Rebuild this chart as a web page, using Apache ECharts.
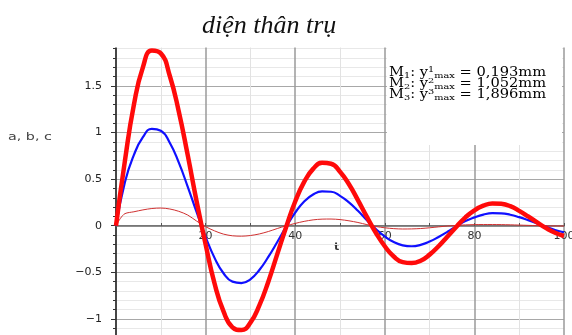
<!DOCTYPE html>
<html>
<head>
<meta charset="utf-8">
<script src="https://cdn.jsdelivr.net/npm/echarts@6/dist/echarts.min.js"></script>
<style>
  html, body { margin: 0; padding: 0; background: #fff; }
  #chart { width: 572px; height: 335px; }
</style>
</head>
<body>
<div id="chart"></div>
<script>
// t (time) and the three response curves
var tSteps = [0, 2, 4, 6, 8, 10, 12, 14, 16, 18, 20, 22, 24, 26, 28, 30, 32, 34, 36, 38, 40,
  42, 44, 46, 48, 50, 52, 54, 56, 58, 60, 62, 64, 66, 68, 70, 72, 74, 76, 78, 80,
  82, 84, 86, 88, 90, 92, 94, 96, 98, 100];

// M3, thick red
var m3 = [0, 0.70, 1.30, 1.70, 1.88, 1.85, 1.61, 1.23, 0.76, 0.26, -0.20, -0.62, -0.92, -1.09, -1.12,
  -1.04, -0.855, -0.60, -0.305, -0.01, 0.26, 0.47, 0.61, 0.675, 0.665, 0.58, 0.445, 0.275, 0.095,
  -0.075, -0.22, -0.33, -0.39, -0.40, -0.375, -0.31, -0.22, -0.115, -0.01, 0.09, 0.165, 0.215,
  0.24, 0.235, 0.21, 0.16, 0.10, 0.035, -0.025, -0.075, -0.11];

// M2, blue
var m2 = [0, 0.47, 0.76, 0.95, 1.04, 1.02, 0.89, 0.68, 0.42, 0.145, -0.12, -0.345, -0.51, -0.60, -0.615,
  -0.575, -0.475, -0.335, -0.175, -0.01, 0.14, 0.26, 0.335, 0.368, 0.365, 0.32, 0.25, 0.16, 0.06,
  -0.035, -0.115, -0.175, -0.21, -0.22, -0.205, -0.17, -0.12, -0.065, -0.005, 0.05, 0.09, 0.12,
  0.135, 0.133, 0.118, 0.092, 0.06, 0.025, -0.012, -0.045, -0.07];

// M1, thin red (own t list, it jumps up fast at the start)
var tM1 = [0, 1, 2, 4, 6, 8, 10, 12, 14, 16, 18, 20, 22, 24, 26, 28, 30, 32, 34, 36, 38, 40,
  42, 44, 46, 48, 50, 52, 54, 56, 58, 60, 62, 64, 66, 68, 70, 72, 74, 76, 78, 80,
  82, 84, 86, 88, 90, 92, 94, 96, 98, 100];
var m1 = [0, 0.08, 0.13, 0.15, 0.17, 0.185, 0.19, 0.18, 0.155, 0.115, 0.05, -0.01, -0.055, -0.09,
  -0.108, -0.112, -0.105, -0.088, -0.062, -0.03, 0.0, 0.025, 0.047, 0.063, 0.071, 0.072, 0.066,
  0.053, 0.035, 0.012, -0.008, -0.022, -0.031, -0.035, -0.034, -0.03, -0.022, -0.012, -0.003,
  0.004, 0.009, 0.012, 0.013, 0.013, 0.012, 0.01, 0.007, 0.004, 0.001, -0.001, -0.002, -0.003];

var legendLines = [
  ['1', '1', '0,193mm'],
  ['2', '2', '1,052mm'],
  ['3', '3', '1,896mm']
];

function pairs(xs, ys) {
  var out = [];
  for (var i = 0; i < xs.length; i++) out.push([xs[i], ys[i]]);
  return out;
}

var myChart = echarts.init(document.getElementById('chart'));

var graphics = [
  // hide the part of the axis above 1.9 (axis runs to 2 so ticks stay on 0.5 steps)
  {
    type: 'rect',
    shape: { x: 60, y: 0, width: 512, height: 47.5 },
    style: { fill: '#fff' },
    z: 20
  },
  {
    type: 'text',
    x: 202,
    y: 13,
    z: 30,
    style: {
      text: 'di\u1EC7n th\u00E2n tr\u1EE5',
      font: 'italic 26px "Liberation Serif"',
      fill: '#111'
    }
  },
  {
    type: 'text',
    x: 8,
    y: 132,
    scaleX: 1.3,
    style: { text: 'a, b, c', font: '11px "DejaVu Sans"', fill: '#444' }
  },
  {
    type: 'text',
    x: 334,
    y: 242,
    style: { text: 't', font: 'bold 11px "DejaVu Sans"', fill: '#333' }
  },
  {
    type: 'rect',
    shape: { x: 387, y: 47, width: 175, height: 98 },
    style: { fill: '#fff' },
    z: 10
  }
];

for (var i = 0; i < legendLines.length; i++) {
  graphics.push({
    type: 'text',
    x: 389,
    y: 66 + i * 11,
    scaleX: 1.22,
    z: 30,
    style: {
      text: '{b|M}{s|' + legendLines[i][0] + '}{b|: y}{p|' + legendLines[i][1] + '}{s|max}{b| = ' + legendLines[i][2] + '}',
      rich: {
        b: { fontFamily: 'DejaVu Serif', fontSize: 12, lineHeight: 14, color: '#111' },
        s: { fontFamily: 'DejaVu Serif', fontSize: 8, lineHeight: 14, verticalAlign: 'bottom', color: '#111' },
        p: { fontFamily: 'DejaVu Serif', fontSize: 8, lineHeight: 14, verticalAlign: 'top', color: '#111' }
      }
    }
  });
}

var option = {
  animation: false,
  backgroundColor: '#fff',
  grid: { left: 116, right: 8, top: 39.4, bottom: -30.5, outerBoundsMode: 'none', containLabel: false },
  xAxis: {
    type: 'value',
    position: 'bottom',
    offset: -139.5, // puts the axis on y = 0
    min: 0,
    max: 100,
    interval: 20,
    axisLine: { onZero: false, lineStyle: { color: '#666', width: 1.5 } },
    axisTick: { show: true, length: 3, inside: true, lineStyle: { color: '#555' } },
    minorTick: { show: true, splitNumber: 2, length: 3, lineStyle: { color: '#555' } },
    axisLabel: {
      margin: 5,
      color: '#333',
      fontFamily: 'DejaVu Sans',
      fontSize: 11,
      formatter: function (v) { return v === 0 ? '' : String(v); }
    },
    splitLine: { show: true, lineStyle: { color: '#9a9a9a', width: 1.5 } },
    minorSplitLine: { show: true, lineStyle: { color: '#e2e2e2', width: 1 } }
  },
  yAxis: {
    type: 'value',
    min: -1.5,
    max: 2,
    interval: 0.5,
    axisLine: { show: true, onZero: false, lineStyle: { color: '#222', width: 1.5 } },
    axisTick: { show: true, length: 5, lineStyle: { color: '#333' } },
    minorTick: { show: true, splitNumber: 5, length: 3, lineStyle: { color: '#333' } },
    axisLabel: {
      margin: 14,
      color: '#222',
      fontFamily: 'DejaVu Sans',
      fontSize: 11,
      showMinLabel: false,
      showMaxLabel: false,
      formatter: function (v) {
        return v < 0 ? '\u2212' + (-v) : String(v);
      }
    },
    splitLine: { show: true, lineStyle: { color: '#a8a8a8', width: 1 } },
    minorSplitLine: { show: true, lineStyle: { color: '#e8e8e8', width: 1 } }
  },
  series: [
    {
      name: 'M1',
      type: 'line',
      data: pairs(tM1, m1),
      showSymbol: false,
      smooth: 0.3,
      lineStyle: { color: '#d03030', width: 1 },
      z: 3
    },
    {
      name: 'M2',
      type: 'line',
      data: pairs(tSteps, m2),
      showSymbol: false,
      smooth: true,
      lineStyle: { color: '#1010ff', width: 2.2 },
      z: 4
    },
    {
      name: 'M3',
      type: 'line',
      data: pairs(tSteps, m3),
      showSymbol: false,
      smooth: true,
      lineStyle: { color: '#ff0a0a', width: 4.5 },
      z: 5
    }
  ],
  graphic: graphics
};

myChart.setOption(option);
window.addEventListener('resize', myChart.resize);
</script>
</body>
</html>
